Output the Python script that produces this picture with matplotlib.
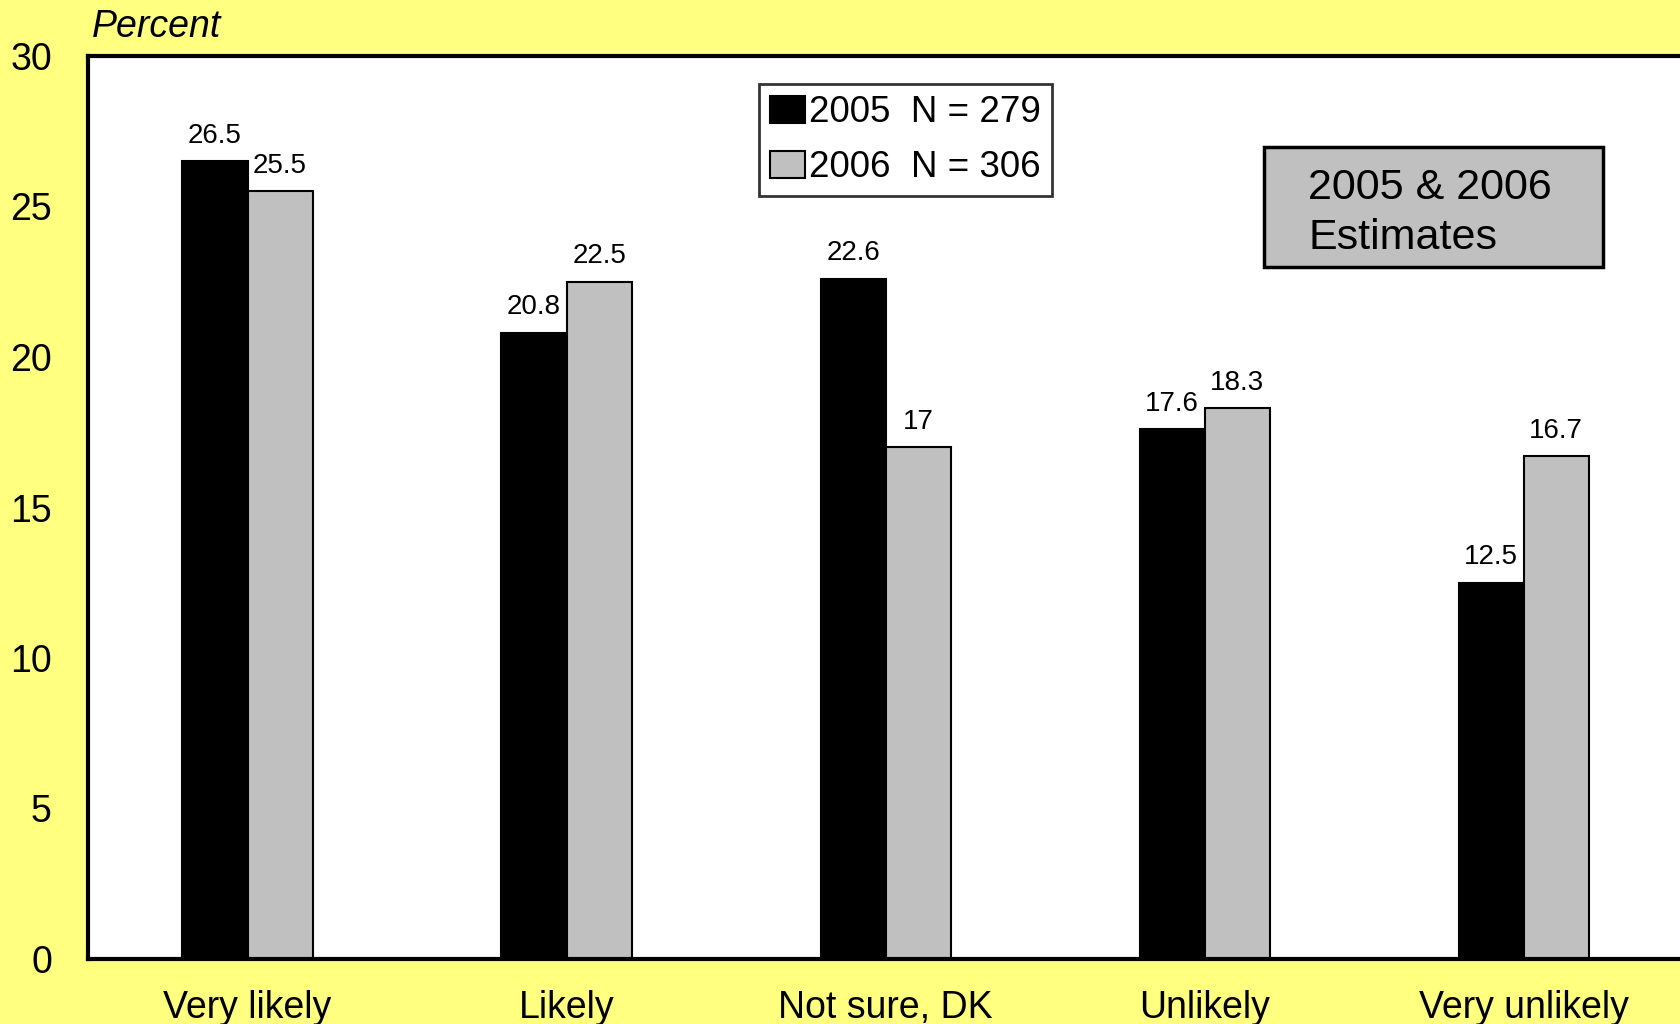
import matplotlib
matplotlib.use("Agg")
from matplotlib import pyplot as plt
from matplotlib.patches import Rectangle
import numpy as np

plt.rcParams['font.family'] = ['Liberation Sans', 'DejaVu Sans']

categorie = ["Very likely", "Likely", "Not sure, DK", "Unlikely", "Very unlikely"]
val_2005 = [26.5, 20.8, 22.6, 17.6, 12.5]
val_2006 = [25.5, 22.5, 17, 18.3, 16.7]
etich_2005 = ["26.5", "20.8", "22.6", "17.6", "12.5"]
etich_2006 = ["25.5", "22.5", "17", "18.3", "16.7"]
yticks = [0, 5, 10, 15, 20, 25, 30]

giallo = "#FFFF80"
grigio = "#C0C0C0"

fig = plt.figure(figsize=(16.8, 10.24), dpi=100, facecolor=giallo)
ax = fig.add_axes([88/1680, 1 - 959/1024, 1 - 88/1680, (959 - 56)/1024])
ax.set_facecolor("white")

x = np.arange(len(categorie))
w = 0.204
b1 = ax.bar(x - w/2, val_2005, w, color="black", edgecolor="black", linewidth=1.5,
            label="2005  N = 279")
b2 = ax.bar(x + w/2, val_2006, w, color=grigio, edgecolor="black", linewidth=1.5,
            label="2006  N = 306")

for rect, t in zip(b1, etich_2005):
    ax.annotate(t, (rect.get_x() + rect.get_width()/2, rect.get_height()),
                xytext=(0, 9), textcoords="offset points", ha="center", va="bottom", fontsize=20)
for rect, t in zip(b2, etich_2006):
    ax.annotate(t, (rect.get_x() + rect.get_width()/2, rect.get_height()),
                xytext=(0, 9), textcoords="offset points", ha="center", va="bottom", fontsize=20)

ax.set_xlim(-0.5, 4.49)
ax.set_ylim(0, 30)
ax.set_yticks(yticks)
ax.set_yticklabels([str(v) for v in yticks], fontsize=27)
ax.set_xticks(x)
ax.set_xticklabels(categorie, fontsize=27)
ax.tick_params(axis="y", length=0, pad=26)
ax.tick_params(axis="x", length=0, pad=22)

for s in ["left", "top", "bottom"]:
    ax.spines[s].set_linewidth(3)
ax.spines["right"].set_visible(False)

leg = ax.legend(loc="upper left", bbox_to_anchor=((759 - 88)/1592, 1 - (84 - 56)/903),
                fontsize=26.5, frameon=True, fancybox=False, edgecolor="black",
                handlelength=0.95, handleheight=0.75, handletextpad=0.1,
                borderpad=0.3, labelspacing=0.55, borderaxespad=0)
leg.get_frame().set_linewidth(2)

# riquadro grigio "Estimates"
box = Rectangle((1264/1680, 1 - 267/1024), (1603 - 1264)/1680, (267 - 147)/1024,
                transform=fig.transFigure, facecolor=grigio, edgecolor="black", linewidth=2.5, zorder=5)
fig.add_artist(box)
fig.text(1308/1680, 1 - 213/1024, "2005 & 2006\nEstimates", fontsize=31, ha="left", va="center",
         linespacing=1.3, zorder=6)

fig.text(92/1680, 1 - 37/1024, "Percent", fontsize=27, style="italic", ha="left", va="baseline")

fig.savefig("out.png", dpi=100, facecolor=giallo)
